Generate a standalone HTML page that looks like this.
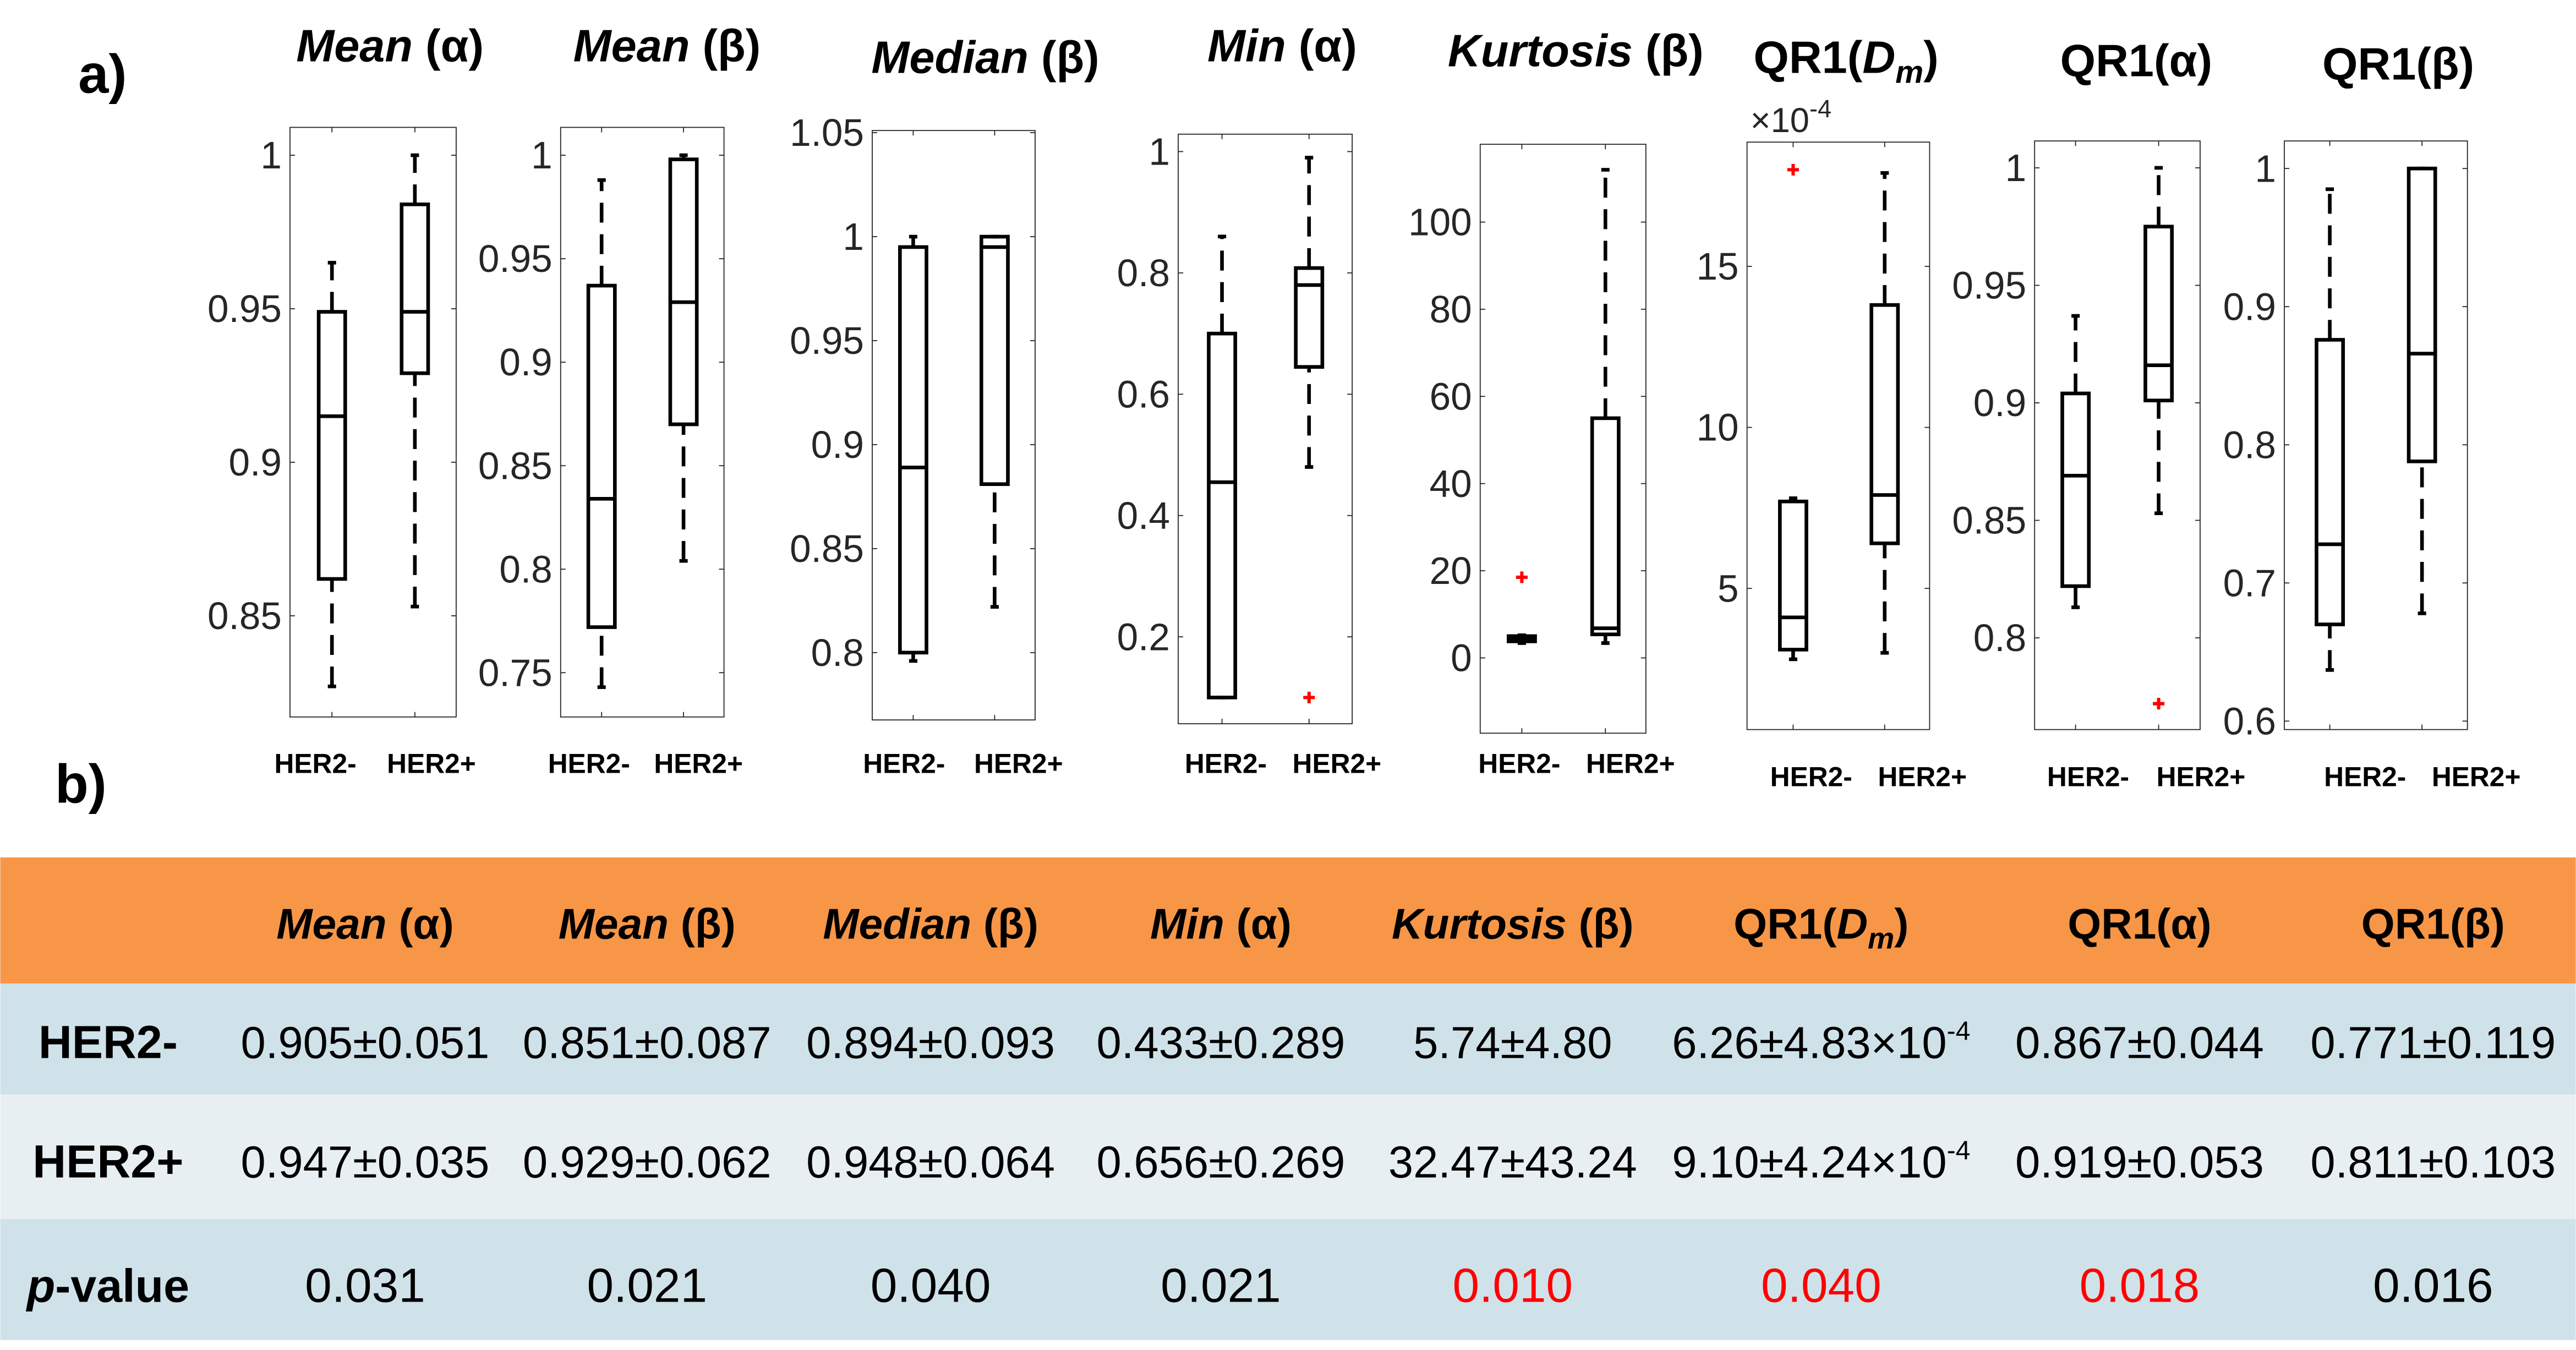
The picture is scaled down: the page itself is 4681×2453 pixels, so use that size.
<!DOCTYPE html>
<html><head><meta charset="utf-8"><style>
html,body{margin:0;padding:0;background:#fff}
svg{display:block}
text{font-family:"Liberation Sans",Arial,sans-serif}
</style></head><body>
<svg id="fig" width="4681" height="2453" viewBox="0 0 1553 814" xmlns="http://www.w3.org/2000/svg" font-family="Liberation Sans, Arial, sans-serif">
<rect x="0" y="0" width="1553" height="814" fill="#fff"/>
<text x="47" y="56" font-size="33" font-weight="bold">a)</text>
<text x="33" y="484" font-size="33" font-weight="bold">b)</text>
<g id="charts"></g>
<g id="table"></g>
</svg>
<script>
const NS="http://www.w3.org/2000/svg";
const categories=["HER2-","HER2+"];
const titles=["Mean (α)","Mean (β)","Median (β)","Min (α)","Kurtosis (β)","QR1(Dm)","QR1(α)","QR1(β)"];
// [lo, q1, med, q3, hi] per group
const negStats=[[0.827,0.862,0.915,0.949,0.965],[0.743,0.772,0.834,0.937,0.988],[0.796,0.800,0.889,0.995,1.0],[0.10,0.10,0.455,0.70,0.86],[3.4,3.8,4.4,5.0,5.2],[2.8,3.1,4.1,7.7,7.8],[0.813,0.822,0.869,0.904,0.937],[0.637,0.670,0.728,0.876,0.985]];
const posStats=[[0.853,0.929,0.949,0.984,1.0],[0.804,0.870,0.929,0.998,1.0],[0.822,0.881,0.995,1.0,1.0],[0.48,0.645,0.78,0.808,0.99],[3.4,5.4,6.8,55,112],[3.0,6.4,7.9,13.8,17.9],[0.853,0.901,0.916,0.975,1.0],[0.678,0.788,0.866,1.0,1.0]];
const negOutliers=[[],[],[],[],[18.5],[18],[],[]];
const posOutliers=[[],[],[],[0.10],[],[],[0.772],[]];
const tickLabels=[["0.85","0.9","0.95","1"],["0.75","0.8","0.85","0.9","0.95","1"],["0.8","0.85","0.9","0.95","1","1.05"],["0.2","0.4","0.6","0.8","1"],["0","20","40","60","80","100"],["5","10","15"],["0.8","0.85","0.9","0.95","1"],["0.6","0.7","0.8","0.9","1"]];
const layout=[
 {l:174.7,r:274.9,t:76.8,b:432.3,v0:1,p0:93.6,v1:0.85,p1:371.3,cx:[200,250],lx:[190,260],tx:235,ty:37,ly:466},
 {l:337.9,r:436.4,t:76.8,b:432.3,v0:1,p0:93.6,v1:0.75,p1:405.6,cx:[362.6,412],lx:[355,421],tx:402,ty:37,ly:466},
 {l:525.8,r:624,t:78.7,b:434.1,v0:1.05,p0:80,v1:0.8,p1:393.5,cx:[550.5,599.6],lx:[545,614],tx:594,ty:44,ly:466},
 {l:710.3,r:815.2,t:80.9,b:436.4,v0:1,p0:91.4,v1:0.2,p1:384,cx:[736.7,789.2],lx:[739,806],tx:773,ty:37,ly:466},
 {l:892.4,r:992.3,t:87,b:442.1,v0:100,p0:133.9,v1:0,p1:396.7,cx:[917.5,967.9],lx:[916,983],tx:950,ty:40,ly:466},
 {l:1053.3,r:1163.4,t:85.7,b:439.9,v0:15,p0:160.6,v1:5,p1:354.8,cx:[1081.1,1136.3],lx:[1092,1159],tx:1113,ty:44,ly:474},
 {l:1226.7,r:1326.5,t:85,b:439.9,v0:1,p0:101.2,v1:0.8,p1:384.6,cx:[1251.4,1301.5],lx:[1259,1327],tx:1288,ty:46,ly:474},
 {l:1377.3,r:1487.7,t:85,b:439.9,v0:1,p0:101.6,v1:0.6,p1:434.8,cx:[1404.7,1460.3],lx:[1426,1493],tx:1446,ty:48,ly:474}];
function mk(tag,attrs,parent,txt){const e=document.createElementNS(NS,tag);for(const k in attrs)e.setAttribute(k,attrs[k]);if(txt!==undefined)e.textContent=txt;parent.appendChild(e);return e;}
const charts=document.getElementById('charts');
layout.forEach((L,i)=>{
 const g=mk('g',{},charts);
 
 
 const y=v=>L.p0+(v-L.v0)*(L.p1-L.p0)/(L.v1-L.v0);
 const ax=mk('rect',{x:L.l,y:L.t,width:L.r-L.l,height:L.b-L.t,fill:'none',stroke:'#262626','stroke-width':0.6},g);
 
 
 tickLabels[i].forEach(s=>{const v=parseFloat(s),py=y(v);
  mk('line',{x1:L.l,x2:L.l+3,y1:py,y2:py,stroke:'#262626','stroke-width':0.6},g);
  mk('line',{x1:L.r,x2:L.r-3,y1:py,y2:py,stroke:'#262626','stroke-width':0.6},g);
  const t=mk('text',{x:L.l-5,y:py+8,'font-size':23,'text-anchor':'end',fill:'#262626'},g,s);
  
  
 });
 const tt=mk('text',{x:L.tx,y:L.ty,'font-size':27.5,'font-weight':'bold','text-anchor':'middle'},g);
 
 
 const ti=titles[i];
 if(ti==="QR1(Dm)"){mk('tspan',{},tt,'QR1(');mk('tspan',{'font-style':'italic'},tt,'D');mk('tspan',{'font-style':'italic','font-size':19,dy:6},tt,'m');mk('tspan',{dy:-6},tt,')');}
 else{const p=ti.indexOf(' (');if(p>0&&ti.indexOf('QR1')<0){mk('tspan',{'font-style':'italic'},tt,ti.slice(0,p));mk('tspan',{},tt,ti.slice(p));}else tt.textContent=ti;}
 if(i===5){const e=mk('text',{x:L.l+2,y:L.t-6,'font-size':21,fill:'#262626'},g);mk('tspan',{},e,'×10');mk('tspan',{dy:-9,'font-size':15},e,'-4');}
 [negStats[i],posStats[i]].forEach((s,j)=>{
  const cx=L.cx[j];
  mk('line',{x1:cx,x2:cx,y1:L.t,y2:L.t+3,stroke:'#262626','stroke-width':0.6},g);
  mk('line',{x1:cx,x2:cx,y1:L.b,y2:L.b-3,stroke:'#262626','stroke-width':0.6},g);
  const bg=mk('g',{stroke:'#000','stroke-width':2.2,fill:'none'},g);
  
  
  const w=8,c=2.5;
  mk('line',{x1:cx,x2:cx,y1:y(s[0]),y2:y(s[1]),'stroke-dasharray':'12,7'},bg);
  mk('line',{x1:cx,x2:cx,y1:y(s[3]),y2:y(s[4]),'stroke-dasharray':'12,7'},bg);
  mk('line',{x1:cx-c,x2:cx+c,y1:y(s[0]),y2:y(s[0])},bg);
  mk('line',{x1:cx-c,x2:cx+c,y1:y(s[4]),y2:y(s[4])},bg);
  mk('rect',{x:cx-w,y:y(s[3]),width:2*w,height:Math.max(0.5,y(s[1])-y(s[3]))},bg);
  mk('line',{x1:cx-w,x2:cx+w,y1:y(s[2]),y2:y(s[2])},bg);
  const outs=j===0?negOutliers[i]:posOutliers[i];
  outs.forEach(o=>{const oy=y(o);const og=mk('g',{stroke:'#f00','stroke-width':2},g);
   
   
   mk('line',{x1:cx-3.5,x2:cx+3.5,y1:oy,y2:oy},og);mk('line',{x1:cx,x2:cx,y1:oy-3.5,y2:oy+3.5},og);});
  const cl=mk('text',{x:L.lx[j],y:L.ly,'font-size':16.5,'font-weight':'bold','text-anchor':'middle'},g,categories[j]);
  
  
 });
});
const colX=[220,390,561,736,912,1098,1290,1467];
const negRow=["0.905±0.051","0.851±0.087","0.894±0.093","0.433±0.289","5.74±4.80","6.26±4.83×10","0.867±0.044","0.771±0.119"];
const posRow=["0.947±0.035","0.929±0.062","0.948±0.064","0.656±0.269","32.47±43.24","9.10±4.24×10","0.919±0.053","0.811±0.103"];
const pvals=["0.031","0.021","0.040","0.021","0.010","0.040","0.018","0.016"];
const sig=[false,false,false,false,true,true,true,false];
const tb=document.getElementById('table');


const rows=[[517,593,'#F79646'],[593,660,'#D0E2E9'],[660,735,'#E8EFF3'],[735,808,'#D0E2E9']];
rows.forEach((r,k)=>{const e=mk('rect',{x:0,y:r[0],width:1553,height:r[1]-r[0],fill:r[2]},tb);});
titles.forEach((ti,i)=>{const t=mk('text',{x:colX[i],y:566,'font-size':26,'font-weight':'bold','text-anchor':'middle'},tb);
 
 
 if(ti==="QR1(Dm)"){mk('tspan',{},t,'QR1(');mk('tspan',{'font-style':'italic'},t,'D');mk('tspan',{'font-style':'italic','font-size':18,dy:6},t,'m');mk('tspan',{dy:-6},t,')');}
 else{const p=ti.indexOf(' (');if(p>0){mk('tspan',{'font-style':'italic'},t,ti.slice(0,p));mk('tspan',{},t,ti.slice(p));}else t.textContent=ti;}
});
function rowLabel(txt,yy,italicP){const t=mk('text',{x:65,y:yy,'font-size':28,'font-weight':'bold','text-anchor':'middle'},tb);
 
 
 if(italicP){mk('tspan',{'font-style':'italic'},t,'p');mk('tspan',{},t,'-value');}else t.textContent=txt;}
rowLabel('HER2-',638);rowLabel('HER2+',710);rowLabel('',785,true);
function valRow(arr,yy){arr.forEach((s,i)=>{const t=mk('text',{x:colX[i],y:yy,'font-size':27,'text-anchor':'middle'},tb);
 
 
 if(s.endsWith('×10')){mk('tspan',{},t,s);mk('tspan',{dy:-11,'font-size':16},t,'-4');}else t.textContent=s;});}
valRow(negRow,638);valRow(posRow,710);
pvals.forEach((s,i)=>{const t=mk('text',{x:colX[i],y:785,'font-size':29,'text-anchor':'middle',fill:sig[i]?'#f00':'#000'},tb,s);
 
 });
</script>
</body></html>
